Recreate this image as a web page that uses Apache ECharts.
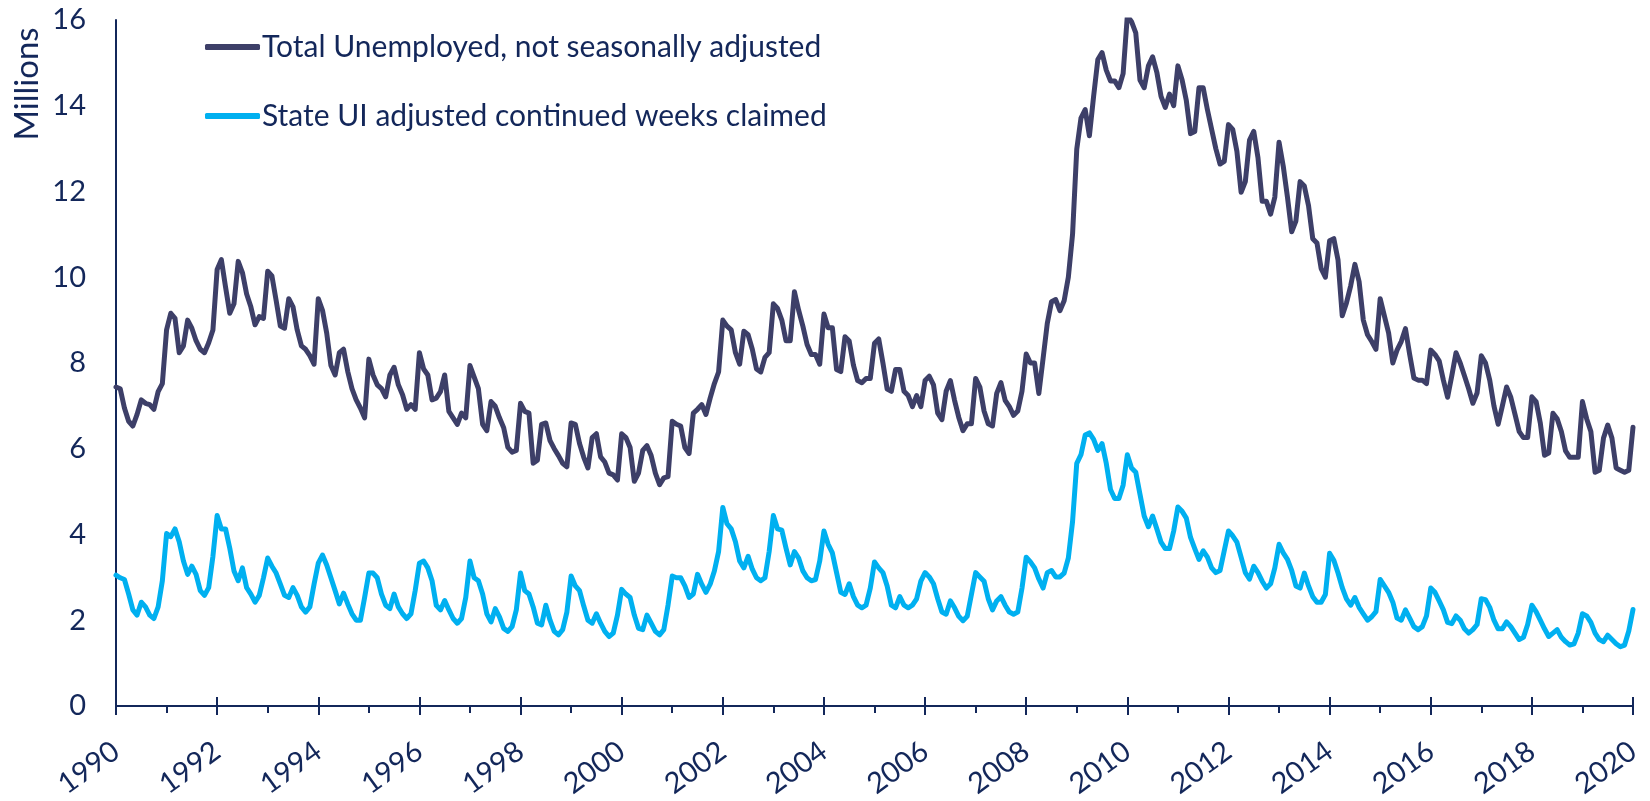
<!DOCTYPE html>
<html>
<head>
<meta charset="utf-8">
<script src="https://cdn.jsdelivr.net/npm/echarts@6/dist/echarts.min.js"></script>
<style>
html,body{margin:0;padding:0;background:#fff;}
#chart{width:1650px;height:801px;}
</style>
</head>
<body>
<div id="chart"></div>
<script>
// Monthly observations, Jan 1990 .. Jan 2020 (millions)
const startYear = 1990;
const seriesNames = ['Total Unemployed, not seasonally adjusted', 'State UI adjusted continued weeks claimed'];
const totalUnemployed = [
  7.44, 7.40, 6.95, 6.64, 6.53, 6.80, 7.14, 7.06, 7.03, 6.92, 7.33, 7.52,
  8.77, 9.16, 9.04, 8.24, 8.40, 9.00, 8.81, 8.52, 8.32, 8.24, 8.47, 8.77,
  10.18, 10.41, 9.77, 9.16, 9.38, 10.37, 10.11, 9.61, 9.31, 8.89, 9.08, 9.04,
  10.14, 10.03, 9.46, 8.86, 8.81, 9.50, 9.31, 8.77, 8.40, 8.32, 8.17, 7.97,
  9.50, 9.23, 8.70, 7.94, 7.72, 8.24, 8.32, 7.80, 7.40, 7.14, 6.95, 6.72,
  8.09, 7.72, 7.49, 7.40, 7.21, 7.72, 7.90, 7.49, 7.26, 6.92, 7.03, 6.92,
  8.24, 7.86, 7.72, 7.14, 7.18, 7.33, 7.72, 6.87, 6.72, 6.57, 6.83, 6.72,
  7.94, 7.67, 7.40, 6.57, 6.42, 7.10, 6.99, 6.72, 6.49, 6.03, 5.92, 5.96,
  7.06, 6.87, 6.83, 5.66, 5.73, 6.57, 6.60, 6.19, 6.00, 5.84, 5.66, 5.58,
  6.60, 6.57, 6.12, 5.80, 5.55, 6.26, 6.35, 5.81, 5.69, 5.43, 5.39, 5.27,
  6.35, 6.26, 6.03, 5.24, 5.43, 5.96, 6.07, 5.84, 5.43, 5.16, 5.32, 5.35,
  6.64, 6.57, 6.53, 6.03, 5.89, 6.83, 6.92, 7.03, 6.80, 7.18, 7.52, 7.79,
  9.00, 8.86, 8.77, 8.24, 7.97, 8.74, 8.66, 8.32, 7.86, 7.79, 8.13, 8.24,
  9.38, 9.27, 9.00, 8.52, 8.52, 9.66, 9.23, 8.86, 8.43, 8.20, 8.20, 7.97,
  9.14, 8.82, 8.82, 7.85, 7.80, 8.61, 8.51, 7.95, 7.59, 7.54, 7.64, 7.64,
  8.46, 8.56, 8.00, 7.39, 7.34, 7.85, 7.85, 7.34, 7.24, 6.98, 7.24, 6.98,
  7.59, 7.69, 7.49, 6.83, 6.68, 7.34, 7.59, 7.13, 6.73, 6.42, 6.58, 6.58,
  7.64, 7.44, 6.88, 6.58, 6.53, 7.29, 7.54, 7.13, 6.98, 6.78, 6.88, 7.34,
  8.21, 8.00, 8.00, 7.29, 8.10, 8.92, 9.43, 9.48, 9.22, 9.45, 10.00, 11.00,
  12.99, 13.71, 13.91, 13.30, 14.22, 15.08, 15.24, 14.83, 14.58, 14.58, 14.42, 14.75,
  16.10, 15.96, 15.70, 14.60, 14.42, 14.93, 15.14, 14.78, 14.22, 13.96, 14.27, 14.00,
  14.93, 14.60, 14.12, 13.35, 13.40, 14.42, 14.42, 13.91, 13.45, 13.00, 12.64, 12.70,
  13.56, 13.45, 12.94, 11.98, 12.23, 13.20, 13.40, 12.79, 11.77, 11.77, 11.47, 11.87,
  13.15, 12.59, 11.87, 11.06, 11.31, 12.23, 12.13, 11.67, 10.90, 10.80, 10.20, 10.00,
  10.85, 10.90, 10.40, 9.10, 9.40, 9.80, 10.30, 9.90, 9.00, 8.66, 8.50, 8.32,
  9.50, 9.10, 8.70, 8.00, 8.30, 8.50, 8.80, 8.20, 7.65, 7.60, 7.60, 7.52,
  8.30, 8.20, 8.05, 7.60, 7.20, 7.70, 8.24, 8.00, 7.70, 7.40, 7.06, 7.30,
  8.17, 8.00, 7.60, 7.00, 6.57, 7.00, 7.44, 7.20, 6.80, 6.40, 6.26, 6.26,
  7.21, 7.10, 6.60, 5.85, 5.90, 6.83, 6.70, 6.40, 5.95, 5.80, 5.80, 5.80,
  7.10, 6.70, 6.40, 5.45, 5.50, 6.25, 6.55, 6.25, 5.55, 5.50, 5.45, 5.50,
  6.50
];
const stateUIClaims = [
  3.05, 2.99, 2.95, 2.61, 2.24, 2.12, 2.42, 2.31, 2.12, 2.04, 2.31, 2.92,
  4.02, 3.95, 4.13, 3.83, 3.38, 3.07, 3.26, 3.07, 2.69, 2.58, 2.76, 3.49,
  4.44, 4.13, 4.13, 3.68, 3.15, 2.92, 3.22, 2.76, 2.61, 2.42, 2.58, 2.99,
  3.45, 3.26, 3.10, 2.84, 2.58, 2.53, 2.76, 2.58, 2.31, 2.19, 2.31, 2.84,
  3.33, 3.52, 3.29, 2.99, 2.69, 2.38, 2.63, 2.38, 2.15, 2.00, 2.00, 2.53,
  3.10, 3.10, 2.99, 2.61, 2.35, 2.27, 2.61, 2.31, 2.15, 2.04, 2.15, 2.69,
  3.33, 3.38, 3.22, 2.92, 2.35, 2.24, 2.46, 2.24, 2.04, 1.93, 2.04, 2.53,
  3.38, 2.99, 2.92, 2.61, 2.15, 1.96, 2.27, 2.08, 1.81, 1.74, 1.85, 2.24,
  3.10, 2.69, 2.61, 2.31, 1.93, 1.89, 2.35, 2.00, 1.74, 1.66, 1.78, 2.19,
  3.03, 2.80, 2.69, 2.33, 2.00, 1.93, 2.15, 1.93, 1.74, 1.62, 1.70, 2.12,
  2.72, 2.61, 2.53, 2.12, 1.81, 1.78, 2.12, 1.93, 1.74, 1.66, 1.78, 2.35,
  3.03, 2.99, 2.99, 2.80, 2.53, 2.61, 3.07, 2.84, 2.65, 2.84, 3.15, 3.60,
  4.63, 4.25, 4.13, 3.83, 3.38, 3.22, 3.49, 3.19, 2.99, 2.92, 2.99, 3.60,
  4.44, 4.13, 4.10, 3.68, 3.29, 3.60, 3.45, 3.15, 2.99, 2.92, 2.95, 3.38,
  4.08, 3.77, 3.57, 3.11, 2.65, 2.60, 2.85, 2.55, 2.35, 2.29, 2.35, 2.75,
  3.36, 3.22, 3.11, 2.80, 2.35, 2.29, 2.55, 2.35, 2.29, 2.35, 2.50, 2.91,
  3.11, 3.01, 2.85, 2.50, 2.19, 2.14, 2.45, 2.29, 2.09, 1.99, 2.09, 2.60,
  3.11, 3.01, 2.91, 2.50, 2.24, 2.45, 2.55, 2.35, 2.19, 2.14, 2.19, 2.75,
  3.47, 3.36, 3.22, 2.96, 2.75, 3.11, 3.16, 3.01, 3.01, 3.10, 3.45, 4.30,
  5.66, 5.86, 6.32, 6.37, 6.22, 5.96, 6.12, 5.66, 5.05, 4.84, 4.84, 5.15,
  5.86, 5.55, 5.45, 4.94, 4.43, 4.18, 4.43, 4.13, 3.82, 3.67, 3.67, 4.08,
  4.64, 4.54, 4.38, 3.93, 3.67, 3.42, 3.62, 3.47, 3.22, 3.11, 3.16, 3.62,
  4.08, 3.97, 3.82, 3.47, 3.11, 2.96, 3.26, 3.11, 2.91, 2.75, 2.85, 3.22,
  3.77, 3.57, 3.42, 3.16, 2.80, 2.75, 3.10, 2.80, 2.55, 2.42, 2.42, 2.60,
  3.56, 3.40, 3.10, 2.76, 2.50, 2.35, 2.53, 2.30, 2.15, 2.00, 2.08, 2.20,
  2.95, 2.80, 2.65, 2.42, 2.05, 2.00, 2.24, 2.05, 1.85, 1.78, 1.85, 2.10,
  2.75, 2.65, 2.45, 2.24, 1.95, 1.92, 2.10, 2.00, 1.80, 1.70, 1.78, 1.90,
  2.50, 2.48, 2.30, 2.00, 1.80, 1.80, 1.96, 1.85, 1.70, 1.55, 1.60, 1.90,
  2.35, 2.20, 2.00, 1.80, 1.62, 1.70, 1.78, 1.60, 1.50, 1.42, 1.45, 1.70,
  2.15, 2.10, 1.95, 1.70, 1.55, 1.50, 1.65, 1.55, 1.45, 1.38, 1.42, 1.75,
  2.25
];
const xMin = 1990, xMax = 2020, xStep = 2;
const yMin = 0, yMax = 16, yStep = 2;

const toPoints = arr => arr.map((v, i) => [startYear + i / 12, v]);

const navy = '#13275a';
const fontFamily = 'Lato, "Open Sans", sans-serif';
const chart = echarts.init(document.getElementById('chart'), null, {renderer: 'canvas'});
chart.setOption({
  animation: false,
  backgroundColor: '#ffffff',
  textStyle: {fontFamily: fontFamily},
  grid: {left: 116, right: 17, top: 20, bottom: 80, containLabel: false},
  legend: {
    orient: 'vertical',
    left: 200,
    top: 26,
    itemGap: 37,
    itemWidth: 55,
    itemHeight: 6,
    icon: 'roundRect',
    textStyle: {fontSize: 30, color: navy, fontFamily: fontFamily, lineHeight: 32, padding: [0, 0, 0, -3]},
    data: seriesNames
  },
  graphic: [{
    type: 'text',
    x: 27, y: 84,
    rotation: Math.PI / 2,
    style: {text: 'Millions', fontSize: 33, fill: navy, fontFamily: fontFamily, align: 'center', verticalAlign: 'middle'}
  }],
  xAxis: [{
    type: 'value', min: xMin, max: xMax, interval: xStep,
    axisLine: {show: true, lineStyle: {color: navy, width: 2}},
    axisTick: {show: true, length: 9, lineStyle: {color: navy, width: 2}},
    minorTick: {show: true, splitNumber: 2, length: 7, lineStyle: {color: navy, width: 2}},
    splitLine: {show: false},
    axisLabel: {rotate: 36, margin: 42, fontSize: 29, color: navy, fontFamily: fontFamily,
      formatter: v => String(Math.round(v))}
  }, {
    type: 'value', min: xMin, max: xMax, interval: xStep, position: 'bottom',
    axisLine: {show: false},
    axisTick: {show: true, inside: true, length: 9, lineStyle: {color: navy, width: 2}},
    axisLabel: {show: false}, splitLine: {show: false}
  }],
  yAxis: {
    type: 'value', min: yMin, max: yMax, interval: yStep,
    axisLine: {show: true, lineStyle: {color: navy, width: 2}},
    axisTick: {show: false},
    splitLine: {show: false},
    axisLabel: {margin: 30, fontSize: 29, color: navy, fontFamily: fontFamily}
  },
  series: [{
    name: seriesNames[0], type: 'line', xAxisIndex: 0,
    data: toPoints(totalUnemployed), showSymbol: false, symbol: 'none',
    lineStyle: {color: '#3d3f68', width: 5, join: 'round', cap: 'round'},
    itemStyle: {color: '#3d3f68'}
  }, {
    name: seriesNames[1], type: 'line', xAxisIndex: 0,
    data: toPoints(stateUIClaims), showSymbol: false, symbol: 'none',
    lineStyle: {color: '#00b0f0', width: 5, join: 'round', cap: 'round'},
    itemStyle: {color: '#00b0f0'}
  }]
});
</script>
</body>
</html>
